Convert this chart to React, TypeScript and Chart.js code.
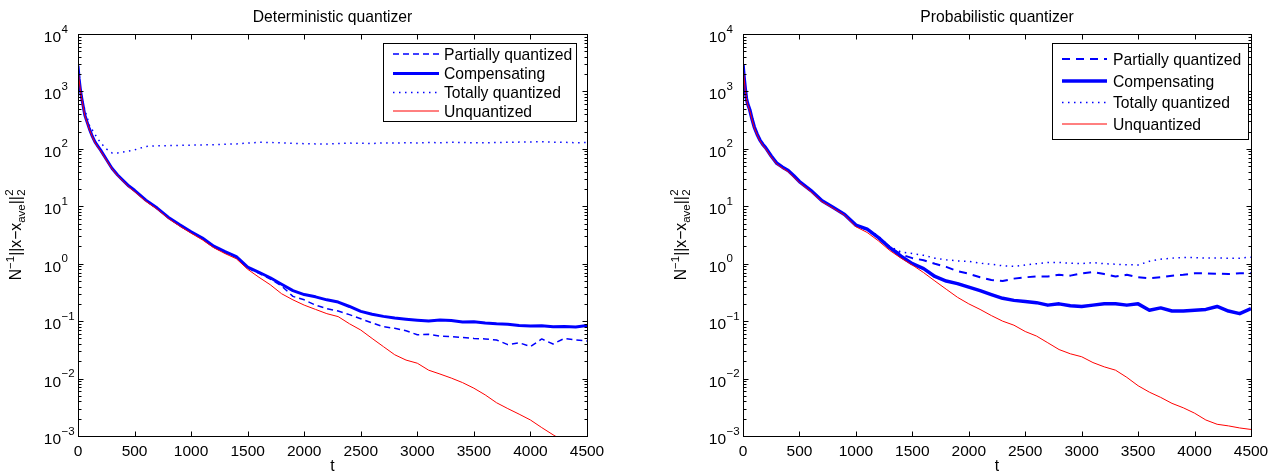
import React, { useEffect, useRef } from "react";
import { Chart, registerables } from "chart.js";

Chart.register(...registerables);

// ---------- data ----------
const T = [0, 10, 20, 30, 40, 60, 80, 100, 125, 150, 175, 200, 250, 300, 350, 400, 450,
  500, 600, 700, 800, 900, 1000, 1100, 1200, 1300, 1400, 1500, 1600, 1700, 1800,
  1900, 2000, 2100, 2200, 2300, 2400, 2500, 2600, 2700, 2800, 2900, 3000, 3100, 3200, 3300,
  3400, 3500, 3600, 3700, 3800, 3900, 4000, 4100, 4200, 4300, 4400, 4500];

const detPartial = [2800, 1650, 1120, 810, 630, 385, 292, 222, 166, 130, 110, 93, 65, 45.5, 34.5, 27.5, 22,
  18.5, 12.6, 9.1, 6.3, 4.6, 3.5, 2.7, 1.95, 1.56, 1.28, 0.84, 0.68, 0.54, 0.41,
  0.27, 0.235, 0.19, 0.165, 0.15, 0.13, 0.11, 0.093, 0.08, 0.075, 0.068, 0.058, 0.059, 0.055, 0.054,
  0.052, 0.05, 0.049, 0.047, 0.039, 0.042, 0.036, 0.049, 0.04, 0.05, 0.047, 0.045];
const detComp = [2800, 1650, 1130, 820, 640, 390, 295, 225, 168, 132, 112, 95, 66, 46, 35, 28, 22.5,
  19, 12.8, 9.3, 6.4, 4.75, 3.6, 2.8, 2.02, 1.62, 1.33, 0.87, 0.71, 0.57, 0.44,
  0.34, 0.29, 0.265, 0.235, 0.215, 0.18, 0.148, 0.132, 0.121, 0.113, 0.108, 0.104, 0.101, 0.105, 0.103,
  0.097, 0.098, 0.093, 0.09, 0.088, 0.084, 0.082, 0.083, 0.08, 0.081, 0.079, 0.084];
const detTotal = [2800, 1700, 1200, 900, 720, 480, 360, 260, 215, 180, 150, 128, 100, 85, 85, 88, 92,
  96, 110, 113, 114, 115, 116, 117, 118, 120, 122, 126, 130, 129, 127,
  125, 123, 122, 121, 124, 126, 125, 124, 127, 126, 128, 127, 129, 128, 130,
  129, 128, 127, 129, 130, 131, 132, 133, 131, 130, 128, 129];
const detUnq = [2750, 1600, 1100, 800, 620, 380, 288, 220, 165, 128, 108, 92, 64, 45, 34, 27, 21.5,
  18, 12.2, 8.9, 6.1, 4.5, 3.4, 2.6, 1.9, 1.5, 1.22, 0.8, 0.58, 0.43, 0.3,
  0.235, 0.19, 0.16, 0.135, 0.12, 0.09, 0.07, 0.05, 0.036, 0.026, 0.021, 0.0185, 0.014, 0.012, 0.0102,
  0.0085, 0.0068, 0.0052, 0.0038, 0.003, 0.0024, 0.0019, 0.0014, 0.00105, 0.0008, 0.0006, 0.00045];

const probPartial = [2900, 1700, 1100, 760, 620, 480, 330, 240, 180, 142, 120, 105, 75, 56, 48, 42, 34,
  27, 19, 12.5, 9.5, 7.2, 4.7, 3.9, 2.85, 1.95, 1.45, 1.25, 1.15, 1.0, 0.88,
  0.74, 0.67, 0.58, 0.52, 0.5, 0.55, 0.58, 0.6, 0.6, 0.64, 0.62, 0.68, 0.72, 0.66, 0.6,
  0.64, 0.58, 0.56, 0.58, 0.62, 0.64, 0.68, 0.68, 0.67, 0.66, 0.68, 0.68];
const probComp = [2900, 1700, 1100, 760, 620, 480, 330, 240, 180, 142, 120, 105, 75, 56, 48, 42, 34,
  27, 19, 12.5, 9.5, 7.2, 4.7, 4.0, 2.85, 1.9, 1.35, 1.0, 0.82, 0.6, 0.5,
  0.45, 0.39, 0.34, 0.29, 0.25, 0.23, 0.22, 0.21, 0.19, 0.2, 0.185, 0.18, 0.19, 0.2, 0.2,
  0.19, 0.2, 0.155, 0.17, 0.15, 0.15, 0.155, 0.16, 0.18, 0.15, 0.135, 0.165];
const probTotal = [2900, 1700, 1100, 760, 620, 480, 330, 240, 180, 142, 120, 105, 75, 56, 48, 42, 34,
  27, 19, 12.5, 9.5, 7.2, 4.8, 4.1, 3.0, 2.0, 1.6, 1.5, 1.4, 1.25, 1.17,
  1.12, 1.1, 1.02, 0.98, 0.92, 0.9, 0.95, 1.0, 1.05, 1.05, 1.02, 1.0, 1.05, 1.0, 0.98,
  0.96, 0.95, 1.1, 1.2, 1.25, 1.28, 1.28, 1.25, 1.26, 1.24, 1.25, 1.3];
const probUnq = [2850, 1650, 1080, 740, 600, 460, 320, 232, 175, 138, 116, 100, 72, 54, 46, 40, 32,
  26, 18, 12, 9.2, 7.0, 4.4, 3.5, 2.5, 1.7, 1.25, 0.95, 0.7, 0.5, 0.36,
  0.26, 0.2, 0.16, 0.125, 0.1, 0.085, 0.066, 0.055, 0.042, 0.032, 0.027, 0.024, 0.019, 0.016, 0.014,
  0.0105, 0.0075, 0.0058, 0.0047, 0.0037, 0.0031, 0.0025, 0.0019, 0.0016, 0.0015, 0.00138, 0.0013];

const X_TICKS = [0, 500, 1000, 1500, 2000, 2500, 3000, 3500, 4000, 4500];
const Y_EXPONENTS = [-3, -2, -1, 0, 1, 2, 3, 4];
const Y_EXP_LABELS = ["\u22123", "\u22122", "\u22121", "0", "1", "2", "3", "4"];
const LEGEND_LABELS = ["Partially quantized", "Compensating", "Totally quantized", "Unquantized"];
const TITLES = ["Deterministic quantizer", "Probabilistic quantizer"];
const X_LABEL = "t";

// ---------- drawing helpers ----------
const FONT = '"Liberation Sans", Arial, Helvetica, sans-serif';
const fnt = (s: number) => `${s}px ${FONT}`;
const BLUE = "#0000ff";
const RED = "#ff0000";
const TEXT_SIZE = 15.7;
const TICK_SIZE = 15.5;
const SUP_SIZE = 11.5;

function drawYLabel(ctx: CanvasRenderingContext2D, cx: number, cy: number) {
  const parts = [
    { t: "N", s: TEXT_SIZE, dy: 0 },
    { t: "\u22121", s: SUP_SIZE, dy: -7 },
    { t: "||x\u2212x", s: TEXT_SIZE, dy: 0 },
    { t: "ave", s: SUP_SIZE, dy: 4 },
    { t: "||", s: TEXT_SIZE, dy: 0 },
  ];
  let total = 0;
  const widths: number[] = [];
  for (const p of parts) {
    ctx.font = fnt(p.s);
    const w = ctx.measureText(p.t).width;
    widths.push(w);
    total += w;
  }
  ctx.font = fnt(SUP_SIZE);
  const w2 = ctx.measureText("2").width;
  total += w2;
  ctx.save();
  ctx.translate(cx, cy);
  ctx.rotate(-Math.PI / 2);
  ctx.fillStyle = "#000";
  ctx.textAlign = "left";
  ctx.textBaseline = "alphabetic";
  let x = -total / 2;
  parts.forEach((p, i) => {
    ctx.font = fnt(p.s);
    ctx.fillText(p.t, x, p.dy);
    x += widths[i];
  });
  ctx.font = fnt(SUP_SIZE);
  ctx.fillText("2", x + 0.5, -7.5);
  ctx.fillText("2", x + 0.5, 4.5);
  ctx.restore();
}

type LegendCfg = { x: number; y: number; w: number; h: number; rows: number[]; x0: number; x1: number; tx: number };

function makePlugin(title: string, legend: LegendCfg) {
  return {
    id: "matlabAxes",
    afterDatasetsDraw(chart: any) {
      const { ctx, chartArea: a } = chart;
      const xs = chart.scales.x;
      const ys = chart.scales.y;
      const L = Math.floor(a.left) + 0.5;
      const R = Math.floor(a.right) + 0.5;
      const Tp = Math.floor(a.top) + 0.5;
      const B = Math.floor(a.bottom) + 0.5;
      ctx.save();
      ctx.strokeStyle = "#000";
      ctx.lineWidth = 1;
      ctx.setLineDash([]);
      ctx.beginPath();
      for (const v of X_TICKS) {
        const px = Math.round(xs.getPixelForValue(v)) + 0.5;
        ctx.moveTo(px, B); ctx.lineTo(px, B - 5);
        ctx.moveTo(px, Tp); ctx.lineTo(px, Tp + 5);
      }
      for (const e of Y_EXPONENTS) {
        const py = Math.round(ys.getPixelForValue(Math.pow(10, e))) + 0.5;
        ctx.moveTo(L, py); ctx.lineTo(L + 5, py);
        ctx.moveTo(R, py); ctx.lineTo(R - 5, py);
        if (e < 4) {
          for (let m = 2; m <= 9; m++) {
            const pm = Math.round(ys.getPixelForValue(m * Math.pow(10, e))) + 0.5;
            ctx.moveTo(L, pm); ctx.lineTo(L + 3, pm);
            ctx.moveTo(R, pm); ctx.lineTo(R - 3, pm);
          }
        }
      }
      ctx.stroke();
      ctx.strokeRect(L, Tp, R - L, B - Tp);

      // legend
      ctx.fillStyle = "#fff";
      ctx.fillRect(legend.x, legend.y, legend.w, legend.h);
      ctx.strokeStyle = "#000";
      ctx.strokeRect(legend.x + 0.5, legend.y + 0.5, legend.w, legend.h);
      chart.data.datasets.forEach((ds: any, i: number) => {
        const y = legend.rows[i];
        ctx.strokeStyle = ds.borderColor;
        ctx.lineWidth = ds.borderWidth;
        ctx.setLineDash(ds.borderDash || []);
        ctx.beginPath();
        ctx.moveTo(legend.x0, y);
        ctx.lineTo(legend.x1, y);
        ctx.stroke();
        ctx.setLineDash([]);
        ctx.fillStyle = "#000";
        ctx.font = fnt(TEXT_SIZE);
        ctx.textAlign = "left";
        ctx.textBaseline = "alphabetic";
        ctx.fillText(ds.label, legend.tx, y + 5.5);
      });
      ctx.restore();
    },
    afterDraw(chart: any) {
      const { ctx, chartArea: a } = chart;
      const xs = chart.scales.x;
      const ys = chart.scales.y;
      ctx.save();
      ctx.fillStyle = "#000";
      ctx.textBaseline = "alphabetic";
      // x tick labels
      ctx.font = fnt(TICK_SIZE);
      ctx.textAlign = "center";
      for (const v of X_TICKS) {
        ctx.fillText(String(v), xs.getPixelForValue(v), a.bottom + 20);
      }
      // y tick labels
      Y_EXPONENTS.forEach((e, i) => {
        const py = ys.getPixelForValue(Math.pow(10, e));
        const bx = a.left - 17;
        ctx.font = fnt(TICK_SIZE);
        ctx.textAlign = "right";
        ctx.fillText("10", bx, py + 8);
        ctx.font = fnt(SUP_SIZE);
        ctx.textAlign = "left";
        ctx.fillText(Y_EXP_LABELS[i], bx + 0.5, py - 1.5);
      });
      // title
      const cx = (a.left + a.right) / 2;
      ctx.font = fnt(TEXT_SIZE);
      ctx.textAlign = "center";
      ctx.fillText(title, cx, 22);
      // x label
      ctx.fillText(X_LABEL, cx, 471);
      // y label
      drawYLabel(ctx, a.left - 57.5, (a.top + a.bottom) / 2);
      ctx.restore();
    },
  };
}

type Style = { partialWidth: number; partialDash: number[]; compWidth: number };

function Panel(props: {
  left: number; width: number; padLeft: number; padRight: number; title: string;
  series: number[][]; legend: LegendCfg; style: Style;
}) {
  const ref = useRef<HTMLCanvasElement>(null);
  useEffect(() => {
    const [p, c, tq, u] = props.series;
    const pts = (ys: number[]) => T.map((t, i) => ({ x: t, y: ys[i] }));
    const common = { pointRadius: 0, fill: false, tension: 0, borderJoinStyle: "round" as const };
    const chart = new Chart(ref.current as HTMLCanvasElement, {
      type: "line",
      data: {
        datasets: [
          { ...common, label: LEGEND_LABELS[0], data: pts(p), borderColor: BLUE, borderWidth: props.style.partialWidth, borderDash: props.style.partialDash, order: 4 },
          { ...common, label: LEGEND_LABELS[1], data: pts(c), borderColor: BLUE, borderWidth: props.style.compWidth, order: 3 },
          { ...common, label: LEGEND_LABELS[2], data: pts(tq), borderColor: BLUE, borderWidth: 1.5, borderDash: [1.5, 4.5], order: 2 },
          { ...common, label: LEGEND_LABELS[3], data: pts(u), borderColor: RED, borderWidth: 1, order: 1 },
        ],
      },
      options: {
        animation: false,
        responsive: false,
        maintainAspectRatio: false,
        layout: { padding: { left: props.padLeft, right: props.padRight, top: 34, bottom: 36 } },
        plugins: { legend: { display: false }, tooltip: { enabled: false }, title: { display: false } },
        scales: {
          x: { type: "linear", min: 0, max: 4500, display: false },
          y: { type: "logarithmic", min: 1e-3, max: 1e4, display: false },
        },
      },
      plugins: [makePlugin(props.title, props.legend)],
    } as any);
    return () => chart.destroy();
  }, []);
  return (
    <canvas
      ref={ref}
      width={props.width}
      height={472}
      style={{ position: "absolute", left: props.left, top: 0, width: props.width, height: 472 }}
    />
  );
}

export default function App() {
  return (
    <div style={{ position: "absolute", left: 0, top: 0, width: 1269, height: 472, background: "#fff" }}>
      <Panel
        left={0}
        width={634}
        padLeft={78}
        padRight={47}
        title={TITLES[0]}
        series={[detPartial, detComp, detTotal, detUnq]}
        legend={{ x: 383, y: 43, w: 193, h: 78, rows: [54, 73.5, 92.5, 111], x0: 393, x1: 439, tx: 444 }}
        style={{ partialWidth: 1.5, partialDash: [6, 4], compWidth: 3 }}
      />
      <Panel
        left={634}
        width={635}
        padLeft={109}
        padRight={18}
        title={TITLES[1]}
        series={[probPartial, probComp, probTotal, probUnq]}
        legend={{ x: 418, y: 43, w: 196, h: 96, rows: [59, 81, 102.5, 124], x0: 428, x1: 473, tx: 479 }}
        style={{ partialWidth: 2, partialDash: [8, 6], compWidth: 3.5 }}
      />
    </div>
  );
}
